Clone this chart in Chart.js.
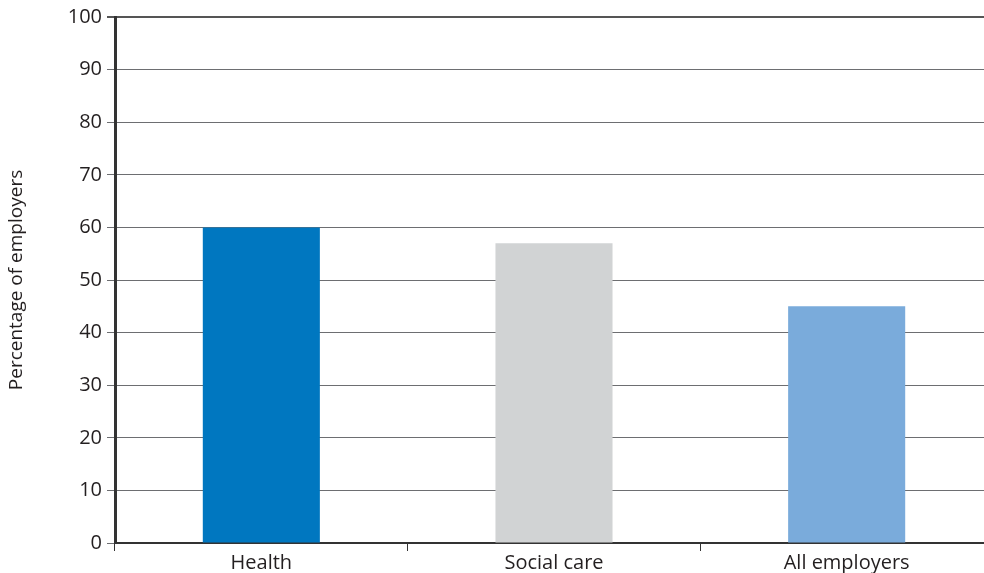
<!DOCTYPE html>
<html>
<head>
<meta charset="utf-8">
<script src="https://cdn.jsdelivr.net/npm/chart.js@4"></script>
<style>
  html, body { margin: 0; padding: 0; background: #fff; overflow: hidden; }
</style>
</head>
<body>
<canvas id="chart" width="993" height="573"></canvas>
<script>
  const categories = ['Health', 'Social care', 'All employers'];
  const values = [60, 57, 45];
  const barColors = ['#0077c0', '#d1d3d4', '#7aabdb'];
  const yTitle = 'Percentage of employers';

  const ctx = document.getElementById('chart').getContext('2d');
  const family = '"Open Sans", "DejaVu Sans", sans-serif';

  new Chart(ctx, {
    type: 'bar',
    data: {
      labels: categories,
      datasets: [{
        data: values,
        backgroundColor: barColors,
        borderWidth: 0,
        categoryPercentage: 1,
        barPercentage: 0.40,
      }]
    },
    options: {
      responsive: false,
      animation: false,
      layout: { padding: { top: 16, right: 0, left: 0, bottom: 0 } },
      plugins: { legend: { display: false }, tooltip: { enabled: false } },
      scales: {
        x: {
          offset: true,
          grid: {
            offset: true,
            drawOnChartArea: false,
            drawTicks: true,
            tickLength: 8,
            color: '#333',
            lineWidth: 1,
          },
          border: { color: '#333', width: 2 },
          ticks: { color: '#231f20', font: { family: family, size: 20 }, padding: 0 },
          afterFit: s => { s.height = 30; },
        },
        y: {
          min: 0,
          max: 100,
          ticks: { stepSize: 10, color: '#231f20', font: { family: family, size: 20 }, padding: 5 },
          grid: {
            color: c => c.tick && c.tick.value === 100 ? '#555' : '#6d6e71',
            lineWidth: c => c.tick && c.tick.value === 100 ? 2 : 1,
            tickLength: 8,
          },
          border: { color: '#333', width: 3 },
          title: {
            display: true,
            text: yTitle,
            color: '#231f20',
            font: { family: family, size: 19 },
            padding: { top: 5, bottom: 4 },
          },
          afterFit: s => { s.width = 115; },
        }
      }
    }
  });
</script>
</body>
</html>
